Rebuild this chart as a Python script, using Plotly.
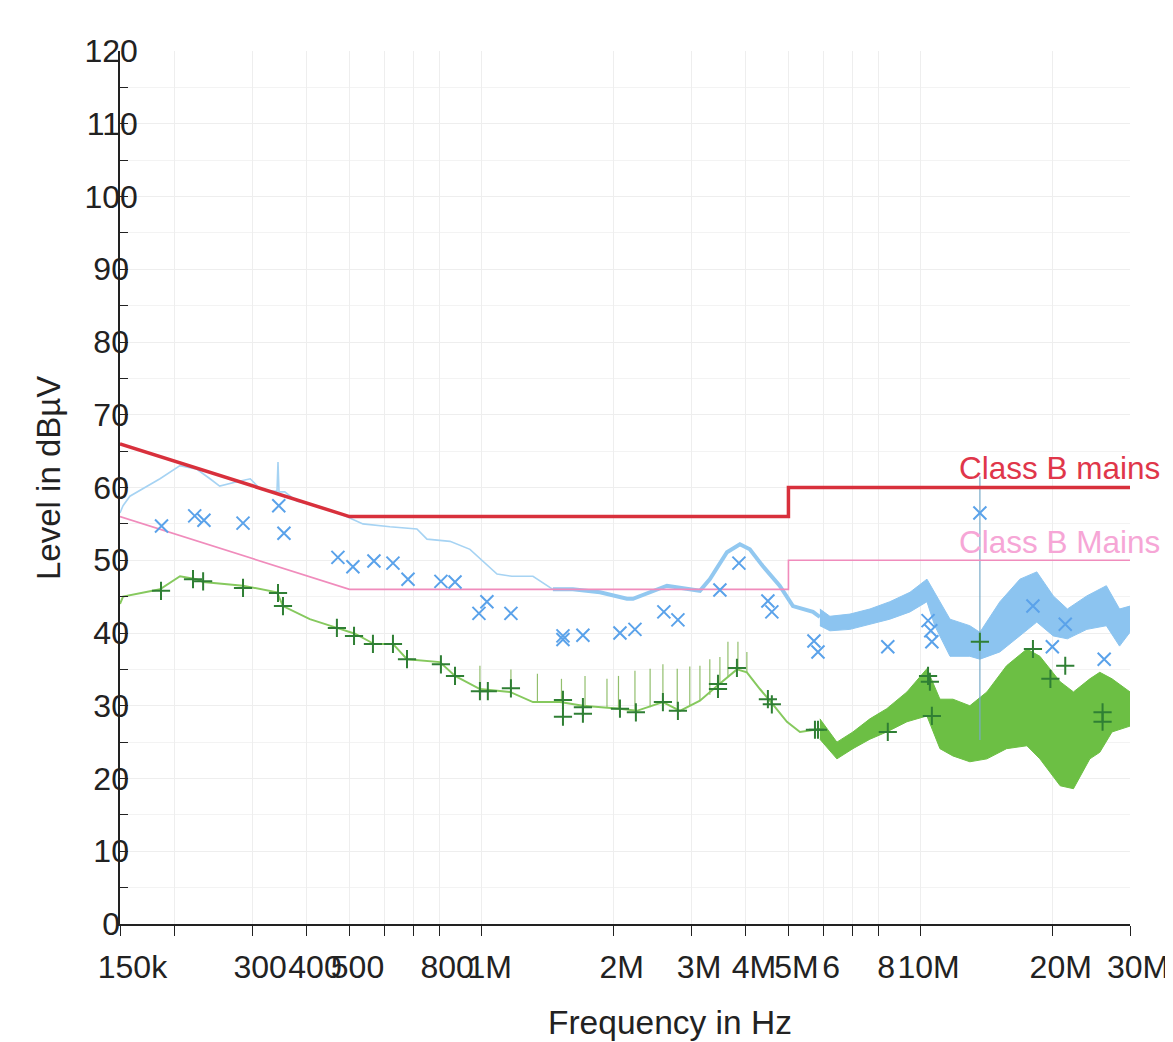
import numpy as np
import plotly.graph_objects as go

# ---------------- data (frequencies in MHz, levels in dBµV) ----------------
lim_qp_f = [0.15, 0.5, 5.0, 5.0, 30.0]
lim_qp_db = [66, 56, 56, 60, 60]
lim_av_f = [0.15, 0.5, 5.0, 5.0, 30.0]
lim_av_db = [56, 46, 46, 50, 50]

# QP scan trace (light blue), thin part
qp_thin_f = [0.150, 0.1524, 0.158, 0.185, 0.2055, 0.2246, 0.2405, 0.253, 0.277, 0.297,
             0.313, 0.3295, 0.3418, 0.3436, 0.3454, 0.356, 0.3797, 0.4215, 0.468, 0.520,
             0.5365, 0.618, 0.712, 0.7506, 0.847, 0.9406, 1.007, 1.084, 1.172, 1.309, 1.453]
qp_thin_db = [56.5, 57.5, 58.8, 61.2, 63.0, 62.5, 61.2, 60.2, 60.8, 61.2,
              59.8, 59.5, 59.5, 63.5, 59.4, 59.4, 58.1, 57.5, 56.6, 55.3,
              55.0, 54.6, 54.3, 52.9, 52.6, 51.5, 49.8, 48.1, 47.8, 47.8, 46.0]
# QP scan trace, thicker part
qp_thick_f = [1.453, 1.614, 1.86, 2.143, 2.212, 2.643, 3.143, 3.312, 3.622, 3.876,
              4.083, 4.37, 4.775, 5.12, 5.686, 5.897]
qp_thick_db = [46.0, 46.0, 45.6, 44.7, 44.7, 46.5, 45.8, 47.4, 51.1, 52.2,
               51.5, 49.2, 46.5, 43.7, 42.9, 42.2]
# QP scan envelope band (high frequencies)
qp_band_f = [5.897, 6.215, 6.902, 7.665, 8.51, 9.46, 10.34, 10.77, 11.67, 12.95, 13.65,
             15.16, 16.84, 18.4, 20.06, 21.6, 23.92, 26.5, 28.4, 30.0]
qp_band_hi = [43.3, 42.3, 42.6, 43.3, 44.3, 45.6, 47.4, 45.6, 41.9, 41.0, 40.1,
              44.3, 47.4, 48.4, 45.1, 43.3, 45.1, 46.5, 43.3, 43.7]
qp_band_lo = [41.0, 40.3, 40.5, 41.2, 41.9, 42.9, 44.3, 41.0, 36.8, 36.8, 36.4,
              37.4, 39.6, 41.5, 39.6, 39.2, 40.5, 41.0, 38.2, 40.1]
qp_spike_f = [13.65]
qp_spike_lo = [25.3]
qp_spike_hi = [61.5]

# AV scan trace (green), line part
av_line_f = [0.150, 0.1524, 0.185, 0.2055, 0.224, 0.232, 0.286, 0.3418, 0.3527, 0.406,
             0.468, 0.5145, 0.5566, 0.5654, 0.628, 0.676, 0.8035, 0.8696, 0.991, 1.16,
             1.309, 1.508, 1.701, 2.066, 2.257, 2.588, 2.83, 3.143, 3.437, 3.816,
             4.02, 4.305, 4.607, 4.961, 5.311, 5.897]
av_line_db = [44.0, 45.0, 46.0, 47.8, 47.4, 47.0, 46.5, 45.6, 43.7, 41.9,
              40.7, 39.9, 38.8, 38.5, 38.5, 36.4, 36.0, 34.1, 32.3, 31.9,
              30.5, 30.5, 30.0, 29.6, 29.3, 30.5, 29.3, 30.7, 32.7, 35.0,
              34.6, 32.3, 30.2, 27.8, 26.4, 26.8]
# AV envelope band (high frequencies)
av_band_f = [5.897, 6.447, 7.012, 7.665, 8.375, 9.31, 10.34, 11.07, 11.85, 12.95, 14.16,
             15.7, 17.47, 18.7, 20.8, 22.3, 24.3, 25.6, 27.3, 30.0]
av_band_hi = [28.2, 25.0, 26.4, 28.2, 29.6, 31.9, 35.1, 30.9, 30.9, 30.0, 31.9,
              35.5, 37.8, 36.8, 33.3, 31.9, 33.7, 34.6, 33.7, 31.9]
av_band_lo = [25.4, 22.7, 24.1, 25.4, 26.4, 27.8, 28.6, 24.1, 23.1, 22.3, 22.7,
              24.1, 24.5, 22.7, 19.0, 18.6, 22.7, 23.6, 26.4, 27.2]
# AV narrow spikes
av_spike_f = [0.991, 1.166, 1.34, 1.52, 1.72, 1.93, 2.05, 2.235, 2.42, 2.588, 2.79,
              2.98, 3.143, 3.31, 3.49, 3.64, 3.836, 4.02]
av_spike_base = [32.3, 31.9, 30.5, 30.5, 30.0, 29.8, 29.6, 29.3, 29.8, 30.5, 29.3,
                 30.0, 30.7, 31.5, 32.9, 34.0, 35.0, 34.6]
av_spike_peak = [35.5, 35.0, 34.4, 33.7, 34.1, 33.7, 34.1, 34.8, 35.1, 35.7, 35.1,
                 35.4, 35.5, 36.4, 36.7, 38.8, 38.8, 37.4]

# final QP measurements (x markers)
qp_meas_f = [0.1865, 0.222, 0.233, 0.286, 0.345, 0.3545, 0.4705, 0.509, 0.5684, 0.628,
             0.6796, 0.8077, 0.8696, 0.986, 1.028, 1.166, 1.532, 1.532, 1.701, 2.066,
             2.235, 2.601, 2.80, 3.49, 3.856, 4.489, 4.583, 5.716, 5.838, 8.42,
             10.4, 10.55, 10.61, 13.65, 18.03, 19.96, 21.36, 26.2]
qp_meas_db = [54.7, 56.1, 55.5, 55.1, 57.5, 53.7, 50.4, 49.1, 49.9, 49.6,
              47.4, 47.1, 47.0, 42.7, 44.3, 42.7, 39.6, 39.1, 39.7, 40.0,
              40.5, 42.9, 41.8, 45.9, 49.6, 44.4, 42.9, 38.9, 37.4, 38.1,
              41.7, 40.3, 38.8, 56.5, 43.7, 38.1, 41.2, 36.4]
# final AV measurements (+ markers)
av_meas_f = [0.186, 0.220, 0.232, 0.286, 0.3436, 0.3527, 0.468, 0.512, 0.5654, 0.628,
             0.676, 0.8077, 0.8696, 0.991, 1.033, 1.166, 1.532, 1.532, 1.701, 1.701,
             2.066, 2.246, 2.588, 2.80, 3.455, 3.455, 3.816, 4.489, 4.583, 5.746,
             5.838, 8.42, 10.4, 10.5, 10.61, 13.65, 18.03, 19.76, 21.36, 25.98, 25.98]
av_meas_db = [45.8, 47.4, 47.1, 46.2, 45.5, 43.7, 40.7, 39.6, 38.5, 38.5,
              36.4, 35.7, 34.1, 32.0, 32.0, 32.4, 30.8, 28.5, 29.8, 28.9,
              29.6, 29.1, 30.5, 29.3, 33.0, 32.3, 35.2, 30.9, 30.2, 26.7,
              26.7, 26.4, 34.1, 33.3, 28.6, 38.8, 37.8, 33.7, 35.5, 29.1, 27.8]

tick_f = [0.15, 0.2, 0.3, 0.4, 0.5, 0.6, 0.7, 0.8, 1, 2, 3, 4, 5, 6, 7, 8, 10, 20, 30]
tick_text = ["\u00a0150k", "", "300", "400", "500", "", "", "800", "1M", "2M", "3M",
             "4M", "5M", "6", "", "8", "10M", "20M", "30M"]
ytick_vals = [0, 10, 20, 30, 40, 50, 60, 70, 80, 90, 100, 110, 120]
ytick_text = ["0\u00a0\u00a0", "10\u00a0", "20\u00a0", "30\u00a0", "40\u00a0", "50\u00a0",
              "60\u00a0", "70\u00a0", "80\u00a0", "90\u00a0", "100", "110", "120"]

# ---------------- figure ----------------
MHZ = 1e6


def hz(vals):
    return [v * MHZ for v in vals]


def spikes(fs, lo, hi):
    xs, ys = [], []
    for f, a, b in zip(fs, lo, hi):
        xs += [f * MHZ, f * MHZ, None]
        ys += [a, b, None]
    return xs, ys


fig = go.Figure()

GREEN_BAND = "#6cbf44"
BLUE_BAND = "#8cc4f0"

# AV scan
sx, sy = spikes(av_spike_f, av_spike_base, av_spike_peak)
fig.add_trace(go.Scatter(x=sx, y=sy, mode="lines",
                         line=dict(color="rgba(110,170,60,0.75)", width=1.2)))
fig.add_trace(go.Scatter(x=hz(av_line_f), y=av_line_db, mode="lines",
                         line=dict(color="#86c95e", width=2)))
fig.add_trace(go.Scatter(x=hz(av_band_f), y=av_band_lo, mode="lines",
                         line=dict(color=GREEN_BAND, width=1)))
fig.add_trace(go.Scatter(x=hz(av_band_f), y=av_band_hi, mode="lines",
                         line=dict(color=GREEN_BAND, width=1),
                         fill="tonexty", fillcolor=GREEN_BAND))

# QP scan
fig.add_trace(go.Scatter(x=hz(qp_thin_f), y=qp_thin_db, mode="lines",
                         line=dict(color="#a6d3f3", width=1.6)))
fig.add_trace(go.Scatter(x=hz(qp_thick_f), y=qp_thick_db, mode="lines",
                         line=dict(color="#92c8f0", width=4)))
fig.add_trace(go.Scatter(x=hz(qp_band_f), y=qp_band_lo, mode="lines",
                         line=dict(color=BLUE_BAND, width=1)))
fig.add_trace(go.Scatter(x=hz(qp_band_f), y=qp_band_hi, mode="lines",
                         line=dict(color=BLUE_BAND, width=1),
                         fill="tonexty", fillcolor=BLUE_BAND))
sx, sy = spikes(qp_spike_f, qp_spike_lo, qp_spike_hi)
fig.add_trace(go.Scatter(x=sx, y=sy, mode="lines",
                         line=dict(color="rgba(120,170,200,0.8)", width=1.5)))

# limit lines
fig.add_trace(go.Scatter(x=hz(lim_av_f), y=lim_av_db, mode="lines",
                         line=dict(color="#f08cbc", width=1.6)))
fig.add_trace(go.Scatter(x=hz(lim_qp_f), y=lim_qp_db, mode="lines",
                         line=dict(color="#d8303c", width=3.5)))

# final measurements
fig.add_trace(go.Scatter(x=hz(qp_meas_f), y=qp_meas_db, mode="markers",
                         marker=dict(symbol="x-thin", size=13,
                                     line=dict(color="#5aa2ea", width=2))))
fig.add_trace(go.Scatter(x=hz(av_meas_f), y=av_meas_db, mode="markers",
                         marker=dict(symbol="cross-thin", size=13,
                                     line=dict(color="#2f7f34", width=2))))

# plot area in page pixels: x 120..1130, y 51..924
PX0, PX1, PY0, PY1 = 120, 1130, 51, 924


def px(x):
    return (x - PX0) / (PX1 - PX0)


def py(y):
    return (PY1 - y) / (PY1 - PY0)


# limit labels
fig.add_annotation(x=px(957), y=py(468), xref="paper", yref="paper",
                   text="Class B mains", showarrow=False, xanchor="left", yanchor="middle",
                   font=dict(size=31.5, color="#e0364a"))
fig.add_annotation(x=px(957), y=py(542), xref="paper", yref="paper",
                   text="Class B Mains", showarrow=False, xanchor="left", yanchor="middle",
                   font=dict(size=31.5, color="#f6a6d6"))

# axis titles
fig.add_annotation(x=px(48), y=py(478), xref="paper", yref="paper",
                   text="Level in dBµV", textangle=-90, showarrow=False,
                   xanchor="center", yanchor="middle", font=dict(size=33, color="#222"))
fig.add_annotation(x=px(670), y=py(1022), xref="paper", yref="paper",
                   text="Frequency in Hz", showarrow=False,
                   xanchor="center", yanchor="middle", font=dict(size=33.5, color="#222"))

# the page body adds an 8 px margin, so the figure is 8 px smaller and offset
fig.update_layout(
    width=1165, height=1034,
    margin=dict(l=PX0 - 8, r=43, t=PY0 - 8, b=118, autoexpand=False),
    plot_bgcolor="white", paper_bgcolor="white",
    showlegend=False,
    font=dict(family="Liberation Sans, Arial, sans-serif", color="#222"),
    xaxis=dict(
        type="log", range=[np.log10(150e3), np.log10(30e6)],
        tickvals=hz(tick_f), ticktext=tick_text, tickangle=0,
        ticks="outside", ticklen=10, tickwidth=1.2, tickcolor="#222",
        showline=True, linecolor="#222", linewidth=1.5,
        showgrid=True, gridcolor="#eeeeee", gridwidth=1, zeroline=False,
        tickfont=dict(size=32, color="#222"), automargin=False,
        ticklabelshift=8, ticklabelstandoff=4,
    ),
    yaxis=dict(
        range=[0, 120], tickvals=ytick_vals, ticktext=ytick_text,
        ticks="inside", ticklen=8, tickwidth=1.2, tickcolor="#222",
        showline=True, linecolor="#222", linewidth=1.5,
        showgrid=True, gridcolor="#eeeeee", gridwidth=1, zeroline=False,
        tickfont=dict(size=32, color="#222"), automargin=False,
        ticklabelstandoff=-26,
        minor=dict(dtick=5, ticks="inside", ticklen=8, tickcolor="#222",
                   showgrid=True, gridcolor="#f3f3f3"),
    ),
)

fig.write_html("out.html")
